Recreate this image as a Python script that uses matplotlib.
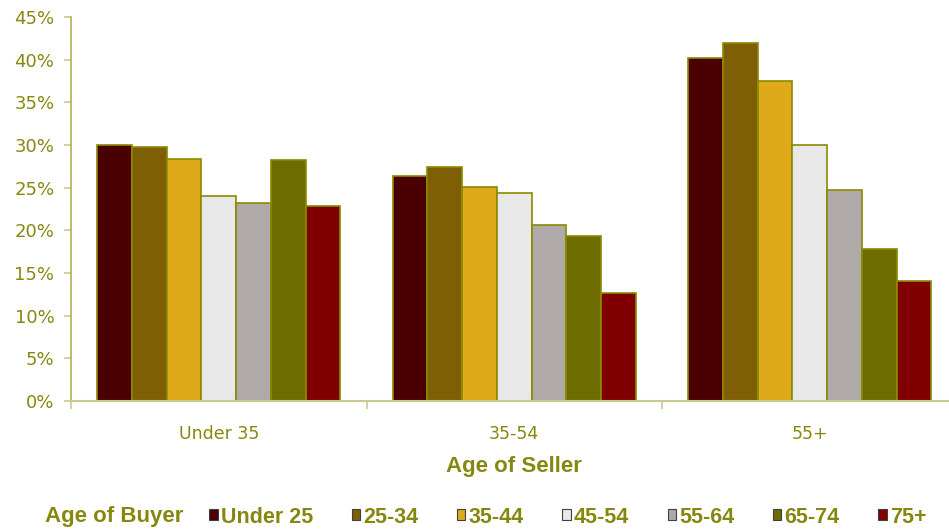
import numpy as np
import matplotlib
matplotlib.use("Agg")
import matplotlib.pyplot as plt
from matplotlib.patches import Patch

sellers = ["Under 35", "35-54", "55+"]
buyers = ["Under 25", "25-34", "35-44", "45-54", "55-64", "65-74", "75+"]
colors = ["#4a0000", "#7f5f06", "#deaa1a", "#e8e8e8", "#afa9a9", "#6e6c00", "#800000"]

# share of sales, percent; one list per buyer age band, ordered by seller age
under25 = [30.0, 26.4, 40.2]
age25_34 = [29.8, 27.4, 42.0]
age35_44 = [28.3, 25.1, 37.5]
age45_54 = [24.0, 24.4, 30.0]
age55_64 = [23.2, 20.6, 24.7]
age65_74 = [28.2, 19.3, 17.8]
age75plus = [22.9, 12.6, 14.0]

series = [under25, age25_34, age35_44, age45_54, age55_64, age65_74, age75plus]

olive = "#878710"
edge = "#8a8a00"

fig = plt.figure(figsize=(9.49, 5.29), dpi=100)
ax = fig.add_axes([0.0748, 0.242, 0.9342, 0.726])

x = np.arange(len(sellers))
w = 0.1175
for i, vals in enumerate(series):
    ax.bar(x + (i - 3) * w, vals, width=w, color=colors[i], edgecolor=edge,
           linewidth=1.2, label=buyers[i], zorder=2)

ax.set_xlim(-0.5, 2.5)
ax.set_ylim(0, 45)
ax.set_yticks(np.arange(0, 46, 5))
ax.set_yticklabels([f"{v}%" for v in range(0, 46, 5)], fontsize=13,
                   color=olive, family="DejaVu Sans")
ax.set_xticks(x)
ax.set_xticklabels(sellers, fontsize=12.5, color=olive, family="DejaVu Sans")
ax.tick_params(axis="x", length=0, pad=17)
ax.set_xticks([-0.5, 0.5, 1.5, 2.5], minor=True)
ax.tick_params(axis="x", which="minor", length=6, color="#c8c890", width=1.2)
ax.tick_params(axis="y", length=5, color="#c8c890", width=1.2, pad=7)

for s in ["top", "right"]:
    ax.spines[s].set_visible(False)
ax.spines["left"].set_color("#b0b050")
ax.spines["left"].set_linewidth(1.2)
ax.spines["bottom"].set_color("#c8c890")
ax.spines["bottom"].set_linewidth(1.5)

ax.set_xlabel("Age of Seller", fontsize=16, fontweight="bold", color=olive,
              family="Liberation Sans", labelpad=10)

fig.text(0.047, 0.003, "Age of Buyer", fontsize=16, fontweight="bold", color=olive,
         family="Liberation Sans", va="bottom")

handles = [Patch(facecolor=c, edgecolor="#404040", linewidth=0.8) for c in colors]
leg = fig.legend(handles, buyers, loc="lower left", bbox_to_anchor=(0.2, -0.034),
                 ncol=7, frameon=False, handlelength=0.4, handleheight=0.4,
                 handletextpad=0.15, columnspacing=1.78,
                 prop={"family": "Liberation Sans", "weight": "bold", "size": 15.5})
for t in leg.get_texts():
    t.set_color(olive)

fig.savefig("out.png", dpi=100)
